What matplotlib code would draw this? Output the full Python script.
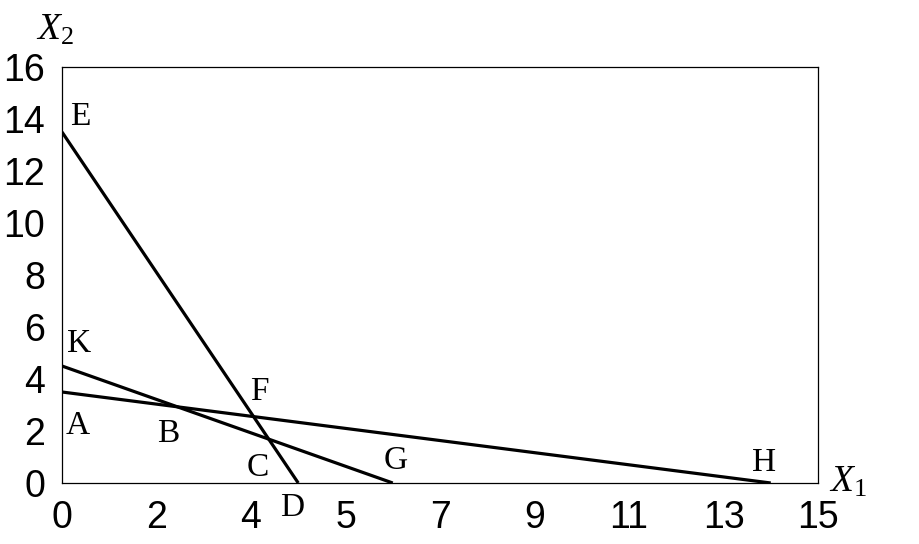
import numpy as np
import matplotlib.pyplot as plt

# tick labels on the x axis (evenly spaced, uneven values)
x_ticks = [0, 2, 4, 5, 7, 9, 11, 13, 15]
y_ticks = [0, 2, 4, 6, 8, 10, 12, 14, 16]

# constraint lines: endpoints on the axes
line_ED_x = [0, 4.5]
line_ED_y = [13.5, 0]
line_KG_x = [0, 6]
line_KG_y = [4.5, 0]
line_AH_x = [0, 14]
line_AH_y = [3.5, 0]

# point labels
point_names = ['E', 'K', 'A', 'B', 'F', 'C', 'D', 'G', 'H']
label_x = [0.38, 0.36, 0.34, 2.24, 4.09, 4.07, 4.44, 6.07, 13.86]
label_y = [14.07, 5.34, 2.19, 1.88, 3.5, 0.57, -0.96, 0.84, 0.77]

tick_idx = np.arange(len(x_ticks))


# the x axis is evenly spaced by tick, so map values piecewise onto tick index
def fwd(v):
    return np.interp(v, x_ticks, tick_idx)


def inv(v):
    return np.interp(v, tick_idx, x_ticks)


plt.rcParams['mathtext.fontset'] = 'custom'
plt.rcParams['mathtext.rm'] = 'Liberation Serif'
plt.rcParams['mathtext.it'] = 'Liberation Serif:italic'

fig = plt.figure(figsize=(9.2, 5.44), dpi=100)
ax = fig.add_axes([62 / 920, 61 / 544, 756 / 920, 416 / 544])
ax.set_xscale('function', functions=(fwd, inv))

for xs, ys in [(line_ED_x, line_ED_y), (line_KG_x, line_KG_y), (line_AH_x, line_AH_y)]:
    ax.plot(xs, ys, color='black', lw=2.3, solid_capstyle='butt')

ax.set_xlim(0, 15)
ax.set_ylim(0, 16)
ax.set_xticks(x_ticks)
ax.set_xticklabels([str(t) for t in x_ticks])
ax.set_yticks(y_ticks)
ax.set_yticklabels([str(t) for t in y_ticks])
ax.tick_params(length=0, labelsize=27)
ax.tick_params(axis='x', pad=12)
ax.tick_params(axis='y', pad=12)
for lab in ax.get_xticklabels() + ax.get_yticklabels():
    lab.set_fontfamily('Liberation Sans')
for s in ax.spines.values():
    s.set_linewidth(0.9)

for name, lx, ly in zip(point_names, label_x, label_y):
    ax.text(lx, ly, name, fontsize=24, family='Liberation Serif',
            ha='center', va='center', clip_on=False)

fig.text(848 / 920, 1 - 482 / 544, '$X_1$', fontsize=27, ha='center', va='center')
fig.text(55 / 920, 1 - 30 / 544, '$X_2$', fontsize=27, ha='center', va='center')

fig.savefig('out.png', dpi=100)
